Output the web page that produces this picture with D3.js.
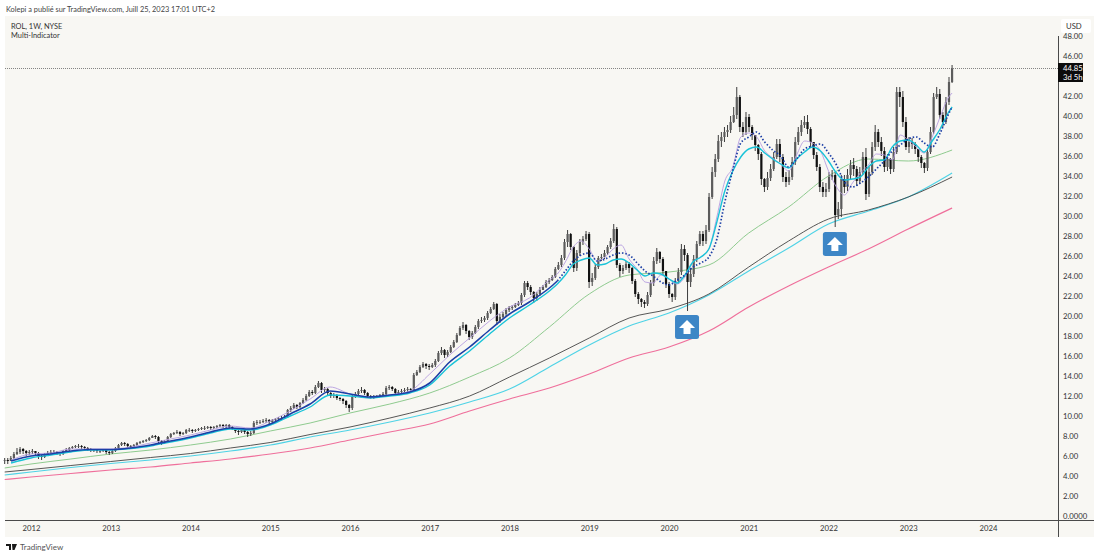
<!DOCTYPE html>
<html lang="en">

<head>
    <meta charset="UTF-8">
    <title>ROL, 1W, NYSE</title>
    <style>
        html, body { margin: 0; background: #ffffff; }
        text { font-family: Lato, "Noto Sans", sans-serif; }
        .axis path, .axis line { display: none; }
        .axis text { font-size: 7.7px; fill: #333333; font-family: Lato, "Noto Sans", sans-serif; }
    </style>
    <script src="https://d3js.org/d3.v7.min.js"></script>
</head>

<body>
    <div id="chart"></div>

    <script>
        // two-weekly candles, starting 2011.67
        var candleStart = 2011.67;
        var candleStep = 0.03857;
        var closes = [
            5.7,5.6,5.9,6.3,6.5,6.8,6.6,6.4,6.5,6.6,
            6.4,6.1,6.0,6.2,6.4,6.5,6.5,6.4,6.3,6.6,
            6.7,6.9,7.0,7.1,7.1,7.0,6.9,6.8,6.7,6.7,
            6.6,6.6,6.7,6.5,6.4,6.6,6.9,7.2,7.4,7.3,
            7.1,7.0,7.2,7.4,7.5,7.6,7.7,7.9,8.1,8.0,
            7.6,7.4,7.6,8.0,8.3,8.4,8.5,8.3,8.4,8.7,
            8.7,8.6,8.7,8.8,8.9,8.9,9.0,8.9,9.0,9.1,
            9.2,9.1,9.2,9.0,8.9,8.6,8.5,8.7,8.5,8.3,
            8.4,9.4,9.5,9.5,9.6,9.7,9.5,9.7,9.8,9.9,
            9.9,10.0,10.7,10.9,11.2,11.0,11.4,11.7,12.1,12.5,
            12.4,13.0,13.4,12.7,12.8,12.4,12.1,12.2,11.9,11.8,
            11.6,11.2,10.9,12.0,12.3,12.6,12.7,12.4,12.1,12.0,
            12.0,12.1,12.2,12.3,12.9,13.0,12.8,12.4,12.5,12.6,
            12.7,12.8,12.7,14.2,14.5,15.0,15.3,15.1,15.0,15.2,
            15.6,16.4,16.7,16.2,16.5,17.0,17.5,18.2,18.9,19.2,
            18.6,18.0,18.4,19.0,19.6,19.7,19.9,20.4,20.8,21.3,
            19.6,20.0,20.3,20.7,20.9,21.0,21.2,21.4,22.2,23.4,
            23.0,22.5,21.9,22.3,22.7,23.0,23.5,23.7,24.0,24.8,
            25.2,25.9,27.5,28.3,27.0,24.9,26.4,27.5,27.8,28.3,
            23.5,23.9,25.0,25.9,26.0,26.4,27.0,27.6,28.8,25.2,
            24.6,24.9,25.3,24.9,23.6,22.3,21.8,21.5,21.3,22.2,
            23.4,25.6,26.5,25.8,24.6,23.3,22.3,22.0,23.6,24.5,
            26.8,26.2,23.5,24.3,25.8,27.3,28.3,27.6,28.7,32.0,
            34.5,35.8,37.6,38.0,38.5,38.7,39.5,40.2,42.0,39.0,
            38.5,40.0,39.0,38.2,37.2,36.3,33.8,33.0,33.9,34.8,
            36.0,37.3,36.0,34.0,33.5,34.0,35.5,37.5,38.5,39.2,
            39.5,38.8,37.5,36.2,35.0,33.0,32.5,32.8,34.0,34.2,
            30.2,30.8,33.8,33.0,34.2,35.2,34.8,33.6,34.5,36.0,
            32.3,34.5,37.0,38.5,37.5,36.6,35.0,35.8,34.8,36.5,
            42.5,42.0,39.5,37.0,37.5,37.3,36.8,36.0,35.4,34.9,
            36.5,38.5,42.0,42.3,40.2,39.5,41.5,43.5,44.85
        ];
        var highs = [
            5.9,5.9,6.1,6.5,6.9,7.0,6.9,6.7,6.7,6.8,
            6.6,6.5,6.2,6.4,6.6,6.7,6.7,6.6,6.5,6.7,
            6.9,7.0,7.1,7.2,7.3,7.2,7.1,7.0,6.9,6.8,
            6.8,6.8,6.8,6.8,6.6,6.8,7.0,7.3,7.5,7.5,
            7.4,7.2,7.3,7.5,7.6,7.7,7.8,8.0,8.2,8.2,
            8.1,7.7,7.7,8.1,8.4,8.5,8.7,8.6,8.5,8.8,
            8.9,8.8,8.8,8.9,9.0,9.1,9.1,9.1,9.1,9.2,
            9.3,9.3,9.3,9.3,9.1,8.9,8.7,8.8,8.8,8.6,
            8.6,9.6,9.7,9.7,9.8,9.9,9.8,9.8,9.9,10.0,
            10.1,10.2,10.8,11.1,11.4,11.3,11.5,11.9,12.3,12.7,
            12.7,13.2,13.6,13.5,13.0,12.9,12.5,12.4,12.3,12.0,
            11.9,11.7,11.3,12.2,12.5,12.8,13.0,12.8,12.5,12.2,
            12.2,12.2,12.3,12.5,13.1,13.2,13.1,12.9,12.7,12.8,
            12.9,13.0,12.9,14.4,14.7,15.2,15.5,15.4,15.3,15.4,
            15.8,16.6,17.0,16.8,16.7,17.2,17.7,18.4,19.1,19.5,
            19.3,18.7,18.6,19.2,19.8,20.0,20.1,20.6,21.0,21.5,
            21.4,20.3,20.5,20.9,21.1,21.2,21.4,21.6,22.4,23.6,
            23.6,23.2,22.6,22.5,23.0,23.2,23.7,23.9,24.2,25.0,
            25.5,26.2,27.8,28.7,28.4,27.1,26.7,27.8,28.1,28.6,
            28.5,24.4,25.3,26.1,26.3,26.7,27.2,27.9,29.3,29.0,
            25.4,25.2,25.6,25.5,25.0,23.8,22.5,21.9,21.7,22.5,
            23.7,26.0,26.9,26.6,26.0,24.6,23.5,22.4,23.9,24.9,
            27.3,27.2,26.4,24.9,26.2,27.6,28.6,28.6,29.2,32.4,
            35.0,36.3,38.2,38.5,39.0,39.2,40.1,41.0,43.0,42.2,
            39.5,40.5,40.3,39.2,38.2,37.3,36.5,33.9,34.5,35.3,
            36.5,37.8,37.8,36.3,34.5,34.7,36.0,38.0,39.0,39.7,
            40.1,40.2,39.0,37.5,36.5,35.3,33.5,33.4,34.5,34.7,
            34.5,31.5,34.2,34.2,34.8,35.7,35.9,35.1,35.0,36.5,
            36.9,35.0,37.5,39.2,38.8,38.0,37.0,36.3,35.9,37.0,
            43.0,43.0,42.6,40.0,38.0,37.9,37.5,36.8,36.2,35.5,
            36.9,39.0,42.4,43.0,42.8,40.5,42.0,44.0,45.2
        ];
        var lows = [
            5.3,5.3,5.6,5.8,6.2,6.3,6.3,6.1,6.2,6.3,
            6.2,5.8,5.7,5.9,6.1,6.3,6.3,6.2,6.1,6.2,
            6.5,6.6,6.8,6.9,6.9,6.8,6.7,6.6,6.5,6.5,
            6.4,6.4,6.5,6.3,6.2,6.3,6.5,6.8,7.1,7.1,
            6.9,6.8,6.9,7.1,7.3,7.4,7.5,7.6,7.9,7.8,
            7.3,7.2,7.3,7.5,7.9,8.2,8.3,8.1,8.2,8.3,
            8.5,8.4,8.5,8.6,8.7,8.7,8.8,8.7,8.8,8.9,
            9.0,8.9,8.9,8.8,8.7,8.4,8.2,8.4,8.3,8.0,
            8.1,8.3,9.2,9.3,9.4,9.4,9.3,9.4,9.6,9.7,
            9.7,9.8,9.9,10.5,10.8,10.8,10.9,11.3,11.6,12.0,
            12.2,12.3,12.9,12.4,12.5,12.2,11.9,11.9,11.7,11.6,
            11.3,10.9,10.5,10.7,11.9,12.2,12.4,12.2,11.9,11.8,
            11.8,11.9,12.0,12.1,12.2,12.7,12.6,12.2,12.2,12.4,
            12.5,12.5,12.5,12.6,14.1,14.4,14.9,14.8,14.7,14.9,
            15.0,15.5,16.2,15.9,16.0,16.4,16.9,17.4,18.1,18.7,
            18.3,17.7,17.8,18.3,18.8,19.4,19.5,19.7,20.3,20.7,
            19.2,19.4,19.9,20.1,20.5,20.7,20.9,21.1,21.2,22.0,
            22.7,22.2,21.4,21.6,22.1,22.7,22.9,23.3,23.6,23.9,
            24.7,25.0,25.7,27.0,26.7,24.5,24.6,26.1,27.2,27.6,
            22.9,23.1,23.7,24.8,25.6,25.8,26.2,26.8,27.4,24.9,
            24.0,24.3,24.7,24.4,23.3,22.0,21.3,21.0,20.9,21.1,
            22.0,23.1,25.3,25.4,24.2,22.9,21.9,21.5,21.7,23.3,
            24.2,25.6,20.6,23.0,24.0,25.5,27.1,27.1,27.3,28.5,
            31.8,34.0,35.5,37.0,37.5,38.0,38.4,39.4,39.8,38.5,
            38.0,38.2,38.5,37.7,36.6,35.7,33.2,32.5,32.7,33.6,
            34.6,35.8,35.5,33.5,33.0,33.2,33.7,35.2,37.2,38.1,
            38.9,38.3,37.0,35.8,34.6,32.5,32.0,32.0,32.5,33.7,
            29.0,29.8,30.0,32.4,32.6,33.8,34.1,33.1,33.3,34.2,
            31.7,32.0,34.2,36.6,37.0,36.1,34.5,34.6,34.3,34.5,
            36.3,41.0,39.0,36.7,36.4,36.8,36.3,35.5,34.9,34.4,
            34.6,36.3,38.3,41.8,39.8,39.0,39.3,41.2,43.4
        ];

        // slow moving averages, sampled twice a year
        var slowDates = [2011.67,2012,2012.5,2013,2013.5,2014,2014.5,2015,2015.5,2016,2016.5,2017,2017.5,2018,2018.5,2019,2019.5,2020,2020.5,2021,2021.5,2022,2022.5,2023,2023.55];
        var maGreen = [4.9,5.3,5.8,6.3,6.7,7.2,7.8,8.6,9.4,10.4,11.3,12.4,14.0,15.9,19.0,22.3,24.2,24.5,25.2,28.4,31.0,34.1,35.8,35.6,36.7];
        var maBlack = [4.5,4.75,5.15,5.55,5.95,6.35,6.9,7.45,8.25,9.0,9.9,10.9,12.1,14.0,15.9,17.9,19.9,20.8,22.3,25.0,27.6,29.8,30.7,32.0,34.0];
        var maCyan = [4.2,4.5,4.95,5.35,5.7,6.1,6.6,7.2,8.0,8.7,9.5,10.4,11.5,12.8,15.0,17.2,19.1,20.4,22.2,24.6,26.9,29.3,30.6,32.0,34.4];
        var maPink = [3.75,4.0,4.35,4.7,5.0,5.4,5.8,6.3,6.9,7.7,8.5,9.3,10.6,11.8,12.9,14.3,15.9,17.0,18.6,21.0,23.1,25.0,26.8,28.8,30.9];

        // fast moving averages
        var fastDates = [2011.75,2012,2012.25,2012.5,2012.75,2013,2013.25,2013.5,2013.75,2014,2014.25,2014.5,2014.75,2015,2015.25,2015.5,2015.75,2016,2016.25,2016.5,2016.75,2017,2017.25,2017.5,2017.75,2018,2018.25,2018.5,
            2018.6,2018.7,2018.8,2018.9,2019,2019.1,2019.2,2019.3,2019.4,2019.5,2019.6,2019.7,2019.8,2019.9,2020,2020.1,2020.2,2020.3,2020.4,2020.5,2020.6,2020.7,2020.8,2020.9,2021,2021.1,2021.2,2021.3,2021.4,2021.5,2021.6,2021.7,2021.8,2021.9,2022,2022.1,2022.2,2022.3,2022.4,2022.5,2022.6,2022.7,2022.8,2022.9,2023,2023.1,2023.2,2023.3,2023.4,2023.5,2023.55];
        var fastBlue = [5.6,6.1,6.3,6.6,6.75,6.75,6.9,7.2,7.6,8.0,8.5,8.9,8.8,9.3,10.3,11.3,12.6,12.3,12.0,12.2,12.5,13.4,15.5,17.0,18.7,20.3,21.5,22.9,
            23.6,24.6,25.6,26.2,26.4,25.6,25.8,26.2,26.4,26.2,25.4,24.6,24.1,23.5,23.2,23.7,24.2,25.0,25.4,26.0,27.8,31.5,34.7,37.4,38.0,38.5,37.5,36.7,36.1,35.0,35.8,36.8,37.1,37.3,36.4,35.2,33.5,33.0,33.4,34.0,34.8,35.6,36.6,37.2,37.8,38.0,37.4,37.0,38.4,40.2,41.0];
        var fastCyan = [5.4,5.9,6.2,6.5,6.7,6.7,6.85,7.1,7.5,7.9,8.4,8.8,8.7,9.2,10.1,11.0,12.2,12.1,11.9,12.1,12.4,13.2,15.1,16.6,18.3,19.9,21.2,22.6,
            23.3,24.2,25.3,25.7,25.9,25.2,25.3,25.7,25.8,25.4,24.7,24.1,24.4,24.3,23.8,23.4,24.2,25.5,26.0,26.8,29.5,32.6,34.6,36.0,36.8,37.0,36.4,35.8,35.3,34.9,35.8,36.5,37.0,36.6,35.6,34.4,33.7,33.8,34.0,35.0,35.6,35.7,37.0,37.6,37.7,37.2,36.5,37.6,38.8,40.4,41.0];
        var fastPurple = [5.7,6.3,6.4,6.8,6.8,6.8,7.0,7.4,7.8,8.2,8.7,9.1,8.9,9.6,10.6,11.8,13.0,12.3,11.9,12.2,12.6,14.3,16.2,17.9,19.6,21.0,21.9,23.7,
            24.3,25.5,27,27.6,26.8,25.6,26.0,26.8,27.2,25.8,24.8,23.5,23.4,24.2,23.8,23.3,24.0,25.5,26.0,26.8,30.0,33.6,35.0,38.0,38.4,38.0,36.6,35.9,35.3,34.6,36.2,37.6,37.4,36.6,34.6,33.0,32.2,33.4,34.4,35.2,36.3,36.2,35.7,38.2,37.7,37.0,36.4,38.0,40.0,41.9,42.4];

        var yearTicks = [2012,2013,2014,2015,2016,2017,2018,2019,2020,2021,2022,2023,2024];
        var priceTicks = [0,2,4,6,8,10,12,14,16,18,20,22,24,26,28,30,32,34,36,38,40,42,44,46,48];
        var lastPrice = 44.85;
        var lastLabel = "44.85";
        var lastCountdown = "3d 5h";
        var arrowDates = [2020.226, 2022.08];
        var arrowTops = [20.2, 28.5];

        var width = 1100;
        var height = 558;

        var x = d3.scaleLinear().domain([2012, 2024]).range([31, 988]);
        var y = d3.scaleLinear().domain([0, 48]).range([517, 37]);

        var svg = d3.select("#chart")
            .append("svg")
            .attr("width", width)
            .attr("height", height)
            .style("display", "block");

        // pane background
        svg.append("rect")
            .attr("x", 5).attr("y", 16)
            .attr("width", 1089).attr("height", 521)
            .attr("fill", "#f8f7f3");

        // price axis
        var yAxis = d3.axisRight(y)
            .tickValues(priceTicks)
            .tickSize(0)
            .tickPadding(0)
            .tickFormat(function (d) {
                return d === 0 ? "0.0000" : d3.format(".2f")(d);
            });

        svg.append("g")
            .attr("class", "axis")
            .attr("transform", "translate(1063,-0.5)")
            .call(yAxis);

        // time axis
        var xAxis = d3.axisBottom(x)
            .tickValues(yearTicks)
            .tickSize(0)
            .tickPadding(0)
            .tickFormat(d3.format("d"));

        svg.append("g")
            .attr("class", "axis")
            .attr("transform", "translate(0,525.5)")
            .call(xAxis);

        // frame lines
        svg.append("line")
            .attr("x1", 5).attr("x2", 1094).attr("y1", 520.5).attr("y2", 520.5)
            .attr("stroke", "#4a4a4a").attr("stroke-width", 1);
        svg.append("line")
            .attr("x1", 1058.5).attr("x2", 1058.5).attr("y1", 36).attr("y2", 537)
            .attr("stroke", "#4a4a4a").attr("stroke-width", 1);

        // last price line
        svg.append("line")
            .attr("x1", 5).attr("x2", 1058)
            .attr("y1", y(lastPrice)).attr("y2", y(lastPrice))
            .attr("stroke", "#666666").attr("stroke-width", 0.8)
            .attr("stroke-dasharray", "1 1");

        function drawMa(dates, values, color, w, dash) {
            var line = d3.line()
                .x(function (d, i) { return x(dates[i]); })
                .y(function (d) { return y(d); })
                .curve(d3.curveMonotoneX);
            var p = svg.append("path")
                .attr("d", line(values))
                .attr("fill", "none")
                .attr("stroke", color)
                .attr("stroke-width", w);
            if (dash) {
                p.attr("stroke-dasharray", dash);
            }
        }

        drawMa(slowDates, maPink, "#ef6f9b", 1.2);
        drawMa(slowDates, maGreen, "#8fcb8f", 1);
        drawMa(slowDates, maCyan, "#4fd3e6", 1.2);
        drawMa(slowDates, maBlack, "#444444", 0.9);

        // candles
        var candles = svg.append("g");
        closes.forEach(function (c, i) {
            var o = i === 0 ? c : closes[i - 1];
            var cx = x(candleStart + i * candleStep);
            candles.append("line")
                .attr("x1", cx).attr("x2", cx)
                .attr("y1", y(highs[i])).attr("y2", y(lows[i]))
                .attr("stroke", "#3d3d3d")
                .attr("stroke-width", 1);
            candles.append("rect")
                .attr("x", cx - 1.1)
                .attr("y", y(Math.max(o, c)))
                .attr("width", 2.2)
                .attr("height", Math.max(0.8, Math.abs(y(o) - y(c))))
                .attr("fill", c >= o ? "#5c5c5c" : "#111111");
        });

        drawMa(fastDates, fastPurple, "#b79ee0", 0.9);
        drawMa(fastDates, fastCyan, "#19c3d8", 1.4);
        // blue reads as a solid band at first and as dots later on
        drawMa(fastDates.slice(0, 29), fastBlue.slice(0, 29), "#1c3fa6", 1.6);
        drawMa(fastDates.slice(28), fastBlue.slice(28), "#1c3fa6", 1.7, "1.5 1.9");

        // arrow markers
        arrowDates.forEach(function (d, i) {
            var cx = x(d);
            var top = y(arrowTops[i]);
            var g = svg.append("g").attr("transform", "translate(" + cx + "," + top + ")");
            g.append("rect")
                .attr("x", -12).attr("y", 0)
                .attr("width", 24).attr("height", 24)
                .attr("rx", 2.5)
                .attr("fill", "#3d86c6");
            g.append("path")
                .attr("d", "M0,5 L8,13 L3.5,13 L3.5,19 L-3.5,19 L-3.5,13 L-8,13 Z")
                .attr("fill", "#ffffff");
        });

        // last price label
        svg.append("rect")
            .attr("x", 1058).attr("y", 63)
            .attr("width", 25).attr("height", 19)
            .attr("fill", "#0c0c0c");
        svg.append("text")
            .attr("x", 1063).attr("y", 71)
            .attr("font-size", 7.7).attr("fill", "#ffffff")
            .text(lastLabel);
        svg.append("text")
            .attr("x", 1063).attr("y", 80)
            .attr("font-size", 7.7).attr("fill", "#ffffff")
            .text(lastCountdown);

        // currency box
        svg.append("rect")
            .attr("x", 1061).attr("y", 19)
            .attr("width", 30).attr("height", 14)
            .attr("rx", 2)
            .attr("fill", "#ffffff");
        svg.append("text")
            .attr("x", 1066).attr("y", 29)
            .attr("font-size", 7.7).attr("fill", "#333333")
            .text("USD");

        // header and footer
        svg.append("text")
            .attr("x", 6).attr("y", 12)
            .attr("font-size", 7.4).attr("fill", "#444444")
            .text("Kolepi a publié sur TradingView.com, Juill 25, 2023 17:01 UTC+2");
        svg.append("text")
            .attr("x", 11).attr("y", 29)
            .attr("font-size", 7.4).attr("fill", "#333333")
            .text("ROL, 1W, NYSE");
        svg.append("text")
            .attr("x", 11).attr("y", 38)
            .attr("font-size", 7.4).attr("fill", "#333333")
            .text("Multi-Indicator");

        svg.append("path")
            .attr("d", "M6,544 H11 V550 H9 V546 H6 Z M12,544 H17 L14.5,550 H12.5 Z")
            .attr("fill", "#1a1a1a");
        svg.append("text")
            .attr("x", 20).attr("y", 550)
            .attr("font-size", 8).attr("fill", "#555555")
            .text("TradingView");
    </script>

</body>

</html>
